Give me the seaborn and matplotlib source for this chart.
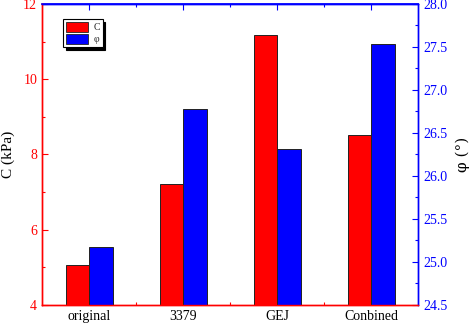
import matplotlib
matplotlib.use("Agg")
import matplotlib.pyplot as plt
import matplotlib.ticker as mt
from matplotlib.patches import Patch
import seaborn as sns
import pandas as pd

categories = ["original", "3379", "GEJ", "Conbined"]
c_values = [5.07, 7.22, 11.17, 8.52]
phi_values = [25.17, 26.78, 26.31, 27.53]
series = ["C", "φ"]
colors = {"C": "#ff0000", "φ": "#0000ff"}

sns.set_theme(style="white")
plt.rcParams["font.family"] = ["Liberation Serif", "DejaVu Serif"]

dfC = pd.DataFrame({"cat": categories, "value": c_values, "series": "C"})
dfP = pd.DataFrame({"cat": categories, "value": phi_values, "series": "φ"})

fig = plt.figure(figsize=(4.74, 3.29), dpi=100)
ax1 = fig.add_axes([0.0886, 0.073, 0.7934, 0.915])
ax2 = ax1.twinx()

sns.barplot(data=dfC, x="cat", y="value", hue="series", hue_order=series,
            order=categories, palette=colors, width=0.5, dodge=True,
            edgecolor="#222222", linewidth=0.7, legend=False, ax=ax1,
            saturation=1)
sns.barplot(data=dfP, x="cat", y="value", hue="series", hue_order=series,
            order=categories, palette=colors, width=0.5, dodge=True,
            edgecolor="#222222", linewidth=0.7, legend=False, ax=ax2,
            saturation=1)

ax1.set_xlim(-0.5, 3.5)
ax1.set_ylim(4, 12)
ax2.set_ylim(24.5, 28.0)

ax1.set_xlabel("")
ax2.set_xlabel("")
ax1.set_ylabel("C (kPa)", fontsize=11, color="black", labelpad=6)
ax2.set_ylabel("φ (°)", fontsize=11, color="black", family=["DejaVu Serif"],
               labelpad=6)

ax1.yaxis.set_major_locator(mt.MultipleLocator(2))
ax1.yaxis.set_minor_locator(mt.MultipleLocator(1))
ax2.yaxis.set_major_locator(mt.MultipleLocator(0.5))
ax2.yaxis.set_minor_locator(mt.MultipleLocator(0.25))
ax2.yaxis.set_major_formatter(mt.FormatStrFormatter("%.1f"))
ax1.xaxis.set_minor_locator(mt.FixedLocator([0.5, 1.5, 2.5]))

ax1.tick_params(axis="y", which="both", direction="in", colors="#ff0000",
                labelsize=10, left=True)
ax1.tick_params(axis="y", which="major", length=4, width=0.8)
ax1.tick_params(axis="y", which="minor", length=2, width=0.8)
ax1.tick_params(axis="x", which="both", direction="in", colors="#ff0000",
                labelcolor="black", labelsize=10, bottom=True, top=False)
ax1.tick_params(axis="x", which="major", length=4, width=0.8)
ax1.tick_params(axis="x", which="minor", length=2, width=0.8)
ax2.tick_params(axis="y", which="both", direction="in", colors="#0000ff",
                labelsize=10, right=True)
ax2.tick_params(axis="y", which="major", length=4, width=0.8)
ax2.tick_params(axis="y", which="minor", length=2, width=0.8)

# top ticks in blue
axt = ax1.secondary_xaxis("top")
axt.set_xticks([0, 1, 2, 3])
axt.xaxis.set_minor_locator(mt.FixedLocator([0.5, 1.5, 2.5]))
axt.tick_params(axis="x", which="both", direction="in", colors="#0000ff",
                labeltop=False)
axt.tick_params(axis="x", which="major", length=4, width=0.8)
axt.tick_params(axis="x", which="minor", length=2, width=0.8)
axt.spines["top"].set_color("#0000ff")

for ax in (ax1, ax2):
    ax.spines["left"].set_color("#ff0000")
    ax.spines["bottom"].set_color("#ff0000")
    ax.spines["right"].set_color("#0000ff")
    ax.spines["top"].set_color("#0000ff")
    for s in ax.spines.values():
        s.set_linewidth(1.0)

handles = [Patch(facecolor=colors[s], edgecolor="#222222", linewidth=0.6, label=s)
           for s in series]
leg = ax2.legend(handles=handles, loc="upper left", bbox_to_anchor=(0.056, 0.95),
                 borderaxespad=0, fontsize=7, frameon=True, fancybox=False,
                 edgecolor="black", shadow={"color": "black", "alpha": 1},
                 handlelength=2.3, handleheight=1.2, handletextpad=0.5,
                 borderpad=0.3, labelspacing=0.2)
leg.get_frame().set_linewidth(0.8)

fig.savefig("out.png", dpi=100)
